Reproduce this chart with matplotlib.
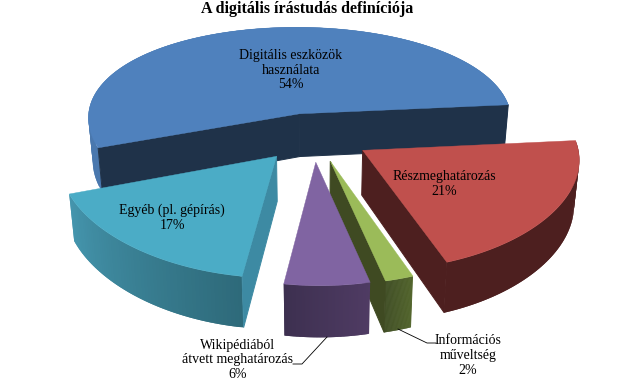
import numpy as np
import matplotlib
matplotlib.use("Agg")
import matplotlib.pyplot as plt
from matplotlib.patches import Polygon
from matplotlib.colors import to_rgb

title = "A digitális írástudás definíciója"
categories = ["Digitális eszközök\nhasználata", "Részmeghatározás", "Információs\nműveltség",
              "Wikipédiából\nátvett meghatározás", "Egyéb (pl. gépírás)"]
values = [54, 21, 2, 6, 17]

top_colors = ["#4F81BD", "#C0504D", "#9BBB59", "#8064A2", "#4BACC6"]
cut_colors = ["#1F3249", "#4D1F1F", "#3F4A22", "#3D3050", "#3D8AA3"]
rim_from = ["#4A78AE", "#4D1F1F", "#4F6228", "#4F3B63", "#4596AE"]
rim_to = ["#4A78AE", "#4D1F1F", "#3F4D24", "#3D3050", "#2E6A7A"]
label_xy = [(291, 70), (444, 184), (468, 355), (238, 360), (172, 218)]

START = 199.8
CX, CY, R, SQ = 313, 137, 214, 0.477
PX, PV, DEPTH, KZ, SHEAR = 0.06, 0.12, 44, 0.02, 4
EXPLODE_X, EXPLODE_Y = 0.27, 0.24

fig = plt.figure(figsize=(6.38, 3.83), dpi=100)
ax = fig.add_axes([0, 0, 1, 1])
ax.set_xlim(0, 638)
ax.set_ylim(383, 0)
ax.axis("off")


def project(u, v, z):
    wx = 1 + PX * v + KZ * z
    wv = 1 + PV * v
    return CX + R * u / wx - SHEAR * v, CY - R * SQ * v / wv + DEPTH * z / wv


def mix(a, b, t):
    a, b = np.array(to_rgb(a)), np.array(to_rgb(b))
    return tuple(a + (b - a) * t)


def signed_area(p):
    p = np.array(p)
    x, y = p[:, 0], p[:, 1]
    return 0.5 * np.sum(x * np.roll(y, -1) - np.roll(x, -1) * y)


fracs = np.array(values) / sum(values) * 360
ends = START - np.cumsum(fracs)
starts = ends + fracs

for i in range(len(values)):
    a0, a1 = starts[i], ends[i]
    mid = np.radians((a0 + a1) / 2)
    ou, ov = EXPLODE_X * np.cos(mid), EXPLODE_Y * np.sin(mid)
    th = np.radians(np.linspace(a0, a1, 121))
    ru, rv = ou + np.cos(th), ov + np.sin(th)

    # rim with a banded gradient; each band overlaps the next to avoid seams
    n = len(th) - 1
    for j in range(0, n, 2):
        t = j / max(n - 1, 1)
        col = mix(rim_from[i], rim_to[i], 1 - t if i == 4 else t)
        e = min(j + 4, n)
        quad = [project(ru[q], rv[q], 0) for q in range(j, e + 1)] + \
               [project(ru[q], rv[q], 1) for q in range(e, j - 1, -1)]
        ax.add_patch(Polygon(quad, closed=True, fc=col, ec="none", lw=0))
    # cut faces, only those turned toward the viewer
    for k, sign in ((0, -1), (-1, 1)):
        quad = [project(ou, ov, 0), project(ru[k], rv[k], 0),
                project(ru[k], rv[k], 1), project(ou, ov, 1)]
        if signed_area(quad) * sign > 0:
            ax.add_patch(Polygon(quad, closed=True, fc=cut_colors[i], ec=cut_colors[i], lw=0.7))
    # top
    pts = [project(ou, ov, 0)] + [project(a, b, 0) for a, b in zip(ru, rv)]
    ax.add_patch(Polygon(pts, closed=True, fc=top_colors[i], ec=top_colors[i], lw=0.3))

serif = "Liberation Serif"
ax.text(307, 9, title, ha="center", va="center", family=serif, weight="bold", fontsize=11.5, color="black")
for i, (c, v) in enumerate(zip(categories, values)):
    ax.text(label_xy[i][0], label_xy[i][1], f"{c}\n{v}%", ha="center", va="center",
            family=serif, fontsize=10, linespacing=1.2, color="black")

ax.plot([327, 302, 293], [337, 364, 364], color="black", lw=0.6)
ax.plot([398, 427, 436], [329, 343, 343], color="black", lw=0.6)

fig.savefig("out.png", dpi=100)
